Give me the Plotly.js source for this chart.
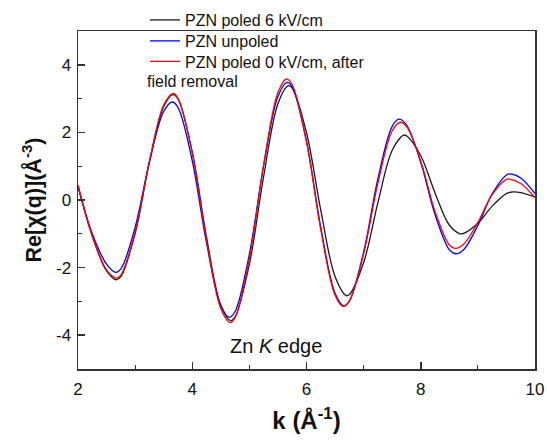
<!DOCTYPE html>
<html>
<head>
<meta charset="utf-8">
<script src="https://cdn.plot.ly/plotly-3.0.1.min.js"></script>
<style>html,body{margin:0;padding:0;background:#fff;}#chart{width:547px;height:444px;}</style>
</head>
<body>
<div id="chart"></div>
<script>
// Series names
const seriesNames = ['PZN poled 6 kV/cm', 'PZN unpoled', 'PZN poled 0 kV/cm, after'];

// PZN poled 6 kV/cm (black)
const kBlack = [2, 2.25, 2.5, 2.67, 2.75, 3, 3.25, 3.5, 3.66, 3.75, 4, 4.25, 4.5, 4.67, 4.75, 5, 5.25, 5.5, 5.68, 5.75, 6, 6.25, 6.5, 6.7, 6.75, 7, 7.25, 7.5, 7.7, 7.75, 8, 8.25, 8.5, 8.69, 8.75, 9, 9.25, 9.5, 9.62, 9.75, 10];
const yBlack = [0.41, -1.07, -2.1, -2.36, -2.27, -0.99, 1.11, 2.77, 3.12, 2.99, 1.42, -1.10, -3.12, -3.57, -3.46, -1.90, 0.70, 2.85, 3.38, 3.31, 1.99, -0.30, -2.26, -2.83, -2.80, -1.85, -0.08, 1.47, 1.92, 1.90, 1.31, 0.21, -0.74, -1.00, -0.99, -0.69, -0.18, 0.19, 0.24, 0.22, 0.09];

// PZN unpoled (blue)
const kBlue = [2, 2.25, 2.5, 2.66, 2.75, 3, 3.25, 3.5, 3.65, 3.75, 4, 4.25, 4.5, 4.65, 4.75, 5, 5.25, 5.5, 5.66, 5.75, 6, 6.25, 6.5, 6.65, 6.75, 7, 7.25, 7.5, 7.62, 7.75, 8, 8.25, 8.5, 8.61, 8.75, 9, 9.25, 9.5, 9.57, 9.75, 10];
const yBlue = [0.41, -1.0, -1.9, -2.14, -2.04, -0.81, 1.13, 2.62, 2.90, 2.74, 1.16, -1.27, -3.12, -3.47, -3.30, -1.60, 1.02, 3.06, 3.48, 3.34, 1.74, -0.81, -2.76, -3.13, -2.99, -1.54, 0.63, 2.18, 2.39, 2.22, 1.11, -0.43, -1.47, -1.59, -1.47, -0.75, 0.18, 0.74, 0.77, 0.65, 0.19];

// PZN poled 0 kV/cm, after field removal (red)
const kRed = [2, 2.25, 2.5, 2.67, 2.75, 3, 3.25, 3.5, 3.66, 3.75, 4, 4.25, 4.5, 4.66, 4.75, 5, 5.25, 5.5, 5.65, 5.75, 6, 6.25, 6.5, 6.64, 6.75, 7, 7.25, 7.5, 7.64, 7.75, 8, 8.25, 8.5, 8.6, 8.75, 9, 9.25, 9.5, 9.55, 9.75, 10];
const yRed = [0.45, -1.05, -2.07, -2.31, -2.22, -0.95, 1.15, 2.81, 3.15, 3.01, 1.39, -1.19, -3.21, -3.63, -3.48, -1.73, 1.05, 3.18, 3.58, 3.41, 1.71, -0.88, -2.82, -3.15, -2.99, -1.59, 0.50, 2.04, 2.30, 2.18, 1.15, -0.34, -1.33, -1.43, -1.31, -0.66, 0.16, 0.61, 0.62, 0.49, 0.07];

// Axis ticks
const xTicks = [2, 4, 6, 8, 10];
const yTicks = [-4, -2, 0, 2, 4];

const FONT = 'Liberation Sans, Arial, sans-serif';
const W = 547, H = 444;
const ML = 78, MR = 12, MT = 31, MB = 75;
const PW = W - ML - MR, PH = H - MT - MB;

const traces = [
  {x: kBlack, y: yBlack, name: seriesNames[0], legend: 'legend', mode: 'lines', line: {color: '#1a1a1a', width: 1.3, shape: 'spline', smoothing: 1}},
  {x: kBlue, y: yBlue, name: seriesNames[1], legend: 'legend2', mode: 'lines', line: {color: '#0000ff', width: 1.3, shape: 'spline', smoothing: 1}},
  {x: kRed, y: yRed, name: seriesNames[2], legend: 'legend3', mode: 'lines', line: {color: '#ff0000', width: 1.3, shape: 'spline', smoothing: 1}}
];

const axisCommon = {
  showline: true, mirror: true, linecolor: '#333', linewidth: 1.5,
  ticks: 'inside', ticklen: 7, tickwidth: 1.5, tickcolor: '#333',
  showgrid: false, zeroline: false, automargin: false,
  tickfont: {family: FONT, size: 17, color: '#111'},
  minor: {dtick: 1, ticks: 'inside', ticklen: 4, tickwidth: 1.2, tickcolor: '#333', showgrid: false}
};

function legendAt(rowCenterPx) {
  return {
    x: (145 - ML) / PW, y: 1 + (MT - rowCenterPx) / PH, xanchor: 'left', yanchor: 'middle',
    bgcolor: 'rgba(0,0,0,0)', borderwidth: 0,
    font: {family: FONT, size: 16, color: '#111'}
  };
}

const layout = {
  width: W, height: H,
  margin: {l: ML, r: MR, t: MT, b: MB, autoexpand: false},
  paper_bgcolor: '#fff', plot_bgcolor: '#fff',
  font: {family: FONT, color: '#111'},
  showlegend: true,
  legend: legendAt(20),
  legend2: legendAt(41),
  legend3: legendAt(61.5),
  xaxis: Object.assign({}, axisCommon, {
    range: [2, 10], tickvals: xTicks, ticktext: xTicks.map(String),
    ticklabelstandoff: 4,
    title: {text: '<b>k (Å<sup>-1</sup>)</b>', font: {family: FONT, size: 24, color: '#111'}, standoff: 14}
  }),
  yaxis: Object.assign({}, axisCommon, {
    range: [-5, 5], tickvals: yTicks, ticktext: yTicks.map(String),
    ticklabelstandoff: 2,
    title: {text: '<b>Re[χ(q)](Å<sup>-3</sup>)</b>', font: {family: FONT, size: 21.5, color: '#111'}, standoff: 8}
  }),
  annotations: [
    {text: 'field removal', xref: 'paper', yref: 'paper', x: (145 - ML) / PW, y: 1.0 - (81 - MT) / PH, xanchor: 'left', yanchor: 'middle', showarrow: false, font: {family: FONT, size: 16, color: '#111'}},
    {text: 'Zn <i>K</i> edge', xref: 'paper', yref: 'paper', x: (276 - ML) / PW, y: 1.0 - (346 - MT) / PH, xanchor: 'center', yanchor: 'middle', showarrow: false, font: {family: FONT, size: 20, color: '#111'}}
  ]
};

Plotly.newPlot('chart', traces, layout, {displayModeBar: false, staticPlot: true});
</script>
</body>
</html>
